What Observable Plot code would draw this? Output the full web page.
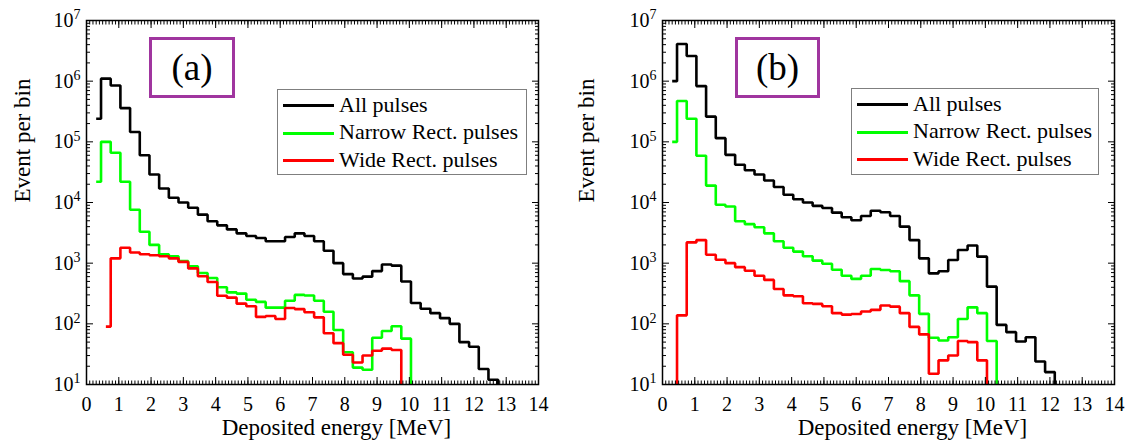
<!DOCTYPE html>
<html>
<head>
<meta charset="utf-8">
<script src="https://cdn.jsdelivr.net/npm/d3@7"></script>
<script src="https://cdn.jsdelivr.net/npm/@observablehq/plot@0.6"></script>
<style>
  html, body { margin: 0; padding: 0; background: #fff; }
  #figure { position: relative; width: 1128px; height: 443px; font-family: "Liberation Serif", "Times New Roman", serif; color: #000; overflow: hidden; }
  .panel { position: absolute; top: 0; }
  .tag { position: absolute; box-sizing: border-box; border: 3px solid #a0359f; display: flex; align-items: center; justify-content: center; font-size: 37px; line-height: 1; }
  .legend { position: absolute; box-sizing: border-box; border: 1px solid #7f7f7f; background: #fff; font-size: 22px; }
  .legend .swatch { position: absolute; left: 5px; width: 51px; height: 3px; }
  .legend .name { position: absolute; left: 61px; line-height: 22px; white-space: nowrap; }
</style>
</head>
<body>
<div id="figure"></div>
<script>
// Histogram binning: bins are 0.3 MeV wide, with edges at 0.15 + 0.3 k.
const binWidth = 0.3;
const firstEdge = 0.15;

const seriesNames = ["All pulses", "Narrow Rect. pulses", "Wide Rect. pulses"];
const seriesColors = ["#000000", "#00ff00", "#ff0000"];

// Panel (a): energy where each curve begins, then counts per consecutive bin (0 = empty bin)
const startA = [0.3, 0.3, 0.6];
const allA = [2.4e5, 1.1e6, 8.5e5, 3.6e5, 1.45e5, 6.0e4, 2.9e4, 1.7e4, 1.2e4, 1.0e4,
  8.2e3, 6.3e3, 4.9e3, 4.2e3, 3.6e3, 3.1e3, 2.8e3, 2.6e3, 2.3e3, 2.3e3,
  2.7e3, 3.1e3, 2.8e3, 2.3e3, 1.6e3, 1.0e3, 660, 560, 600, 740,
  950, 910, 500, 220, 177, 150, 124, 100, 50, 42, 18, 12, 0];
const narrowA = [2.2e4, 1.0e5, 6.6e4, 2.2e4, 7.6e3, 3.3e3, 2.0e3, 1.4e3, 1.3e3, 1.08e3,
  890, 690, 570, 400, 330, 315, 250, 230, 185, 185,
  240, 300, 293, 240, 158, 79, 34, 19, 17.5, 59,
  76, 91, 57, 0];
const wideA = [90, 1.2e3, 1.8e3, 1.5e3, 1.4e3, 1.35e3, 1.3e3, 1.2e3, 1.05e3,
  820, 610, 490, 290, 270, 215, 195, 130, 135, 120,
  182, 175, 155, 128, 70, 48, 31, 23, 30, 36,
  39, 37, 0];

// Panel (b)
const startB = [0.3, 0.3, 0.15];
const allB = [1.0e6, 4.1e6, 2.6e6, 8.3e5, 2.6e5, 1.15e5, 6.1e4, 4.2e4, 3.4e4, 2.9e4,
  2.3e4, 1.8e4, 1.34e4, 1.13e4, 1.0e4, 8.8e3, 8.1e3, 6.8e3, 5.7e3, 5.1e3,
  6.0e3, 7.3e3, 6.9e3, 6.0e3, 4.0e3, 2.4e3, 1.2e3, 680, 735, 1.13e3,
  1.65e3, 1.95e3, 1.28e3, 410, 96, 73, 51, 60, 24, 16, 0];
const narrowB = [1.0e5, 4.7e5, 2.4e5, 5.9e4, 1.9e4, 9.2e3, 8.6e3, 4.9e3, 4.4e3, 3.9e3,
  3.1e3, 2.3e3, 1.8e3, 1.55e3, 1.3e3, 1.1e3, 980, 780, 620, 550,
  620, 800, 770, 735, 505, 295, 146, 59, 53, 60,
  120, 187, 150, 52, 0];
const wideB = [0, 138, 2.2e3, 2.4e3, 1.38e3, 1.14e3, 1.0e3, 860, 750, 620,
  530, 375, 295, 285, 218, 213, 195, 150, 142, 145,
  160, 170, 200, 192, 150, 89, 67, 15, 25, 30,
  52, 50, 25, 0];

// Axis ticks
const xTicks = d3.range(0, 15);
const xMinorTicks = d3.range(0, 141).map(i => i / 10);
const yTicks = [1e1, 1e2, 1e3, 1e4, 1e5, 1e6, 1e7];
const yMinorTicks = yTicks.slice(0, -1).flatMap(p => d3.range(2, 10).map(m => m * p));

const xTitle = "Deposited energy [MeV]";
const yTitle = "Event per bin";

// Turn per-bin counts into step points (step-after), ending on the last bin's upper edge.
function stepRows(counts, start) {
  const k0 = Math.floor((start - firstEdge) / binWidth + 1e-9);
  const rows = counts.map((c, i) => ({
    x: i === 0 ? start : firstEdge + binWidth * (k0 + i),
    count: c
  }));
  rows.push({x: firstEdge + binWidth * (k0 + counts.length), count: counts[counts.length - 1]});
  return rows;
}

function drawPanel({series, starts, marginLeft, marginRight}) {
  const floor = 1; // empty bins fall below the axis and are clipped
  const lines = series.map((counts, s) =>
    Plot.line(stepRows(counts, starts[s]), {
      x: "x",
      y: d => Math.max(d.count, floor),
      curve: "step-after",
      stroke: seriesColors[s],
      strokeWidth: 2.6,
      strokeLinejoin: "miter",
      strokeLinecap: "butt",
      clip: true
    })
  );
  const svg = Plot.plot({
    width: 564,
    height: 443,
    marginTop: 20,
    marginBottom: 59,
    marginLeft,
    marginRight,
    style: {fontFamily: '"Liberation Serif", "Times New Roman", serif', background: "white", color: "black", overflow: "visible"},
    x: {domain: [0, 14]},
    y: {type: "log", domain: [1e1, 1e7]},
    marks: [
      ...lines,
      // inward ticks on all four sides
      Plot.axisX(xMinorTicks, {anchor: "bottom", tickSize: -3.5, fill: "none", label: null}),
      Plot.axisX(xTicks, {anchor: "bottom", tickSize: -7, fill: "none", label: null}),
      Plot.axisX(xMinorTicks, {anchor: "top", tickSize: -3.5, fill: "none", label: null}),
      Plot.axisX(xTicks, {anchor: "top", tickSize: -7, fill: "none", label: null}),
      Plot.axisY(yMinorTicks, {anchor: "left", tickSize: -4, fill: "none", label: null}),
      Plot.axisY(yTicks, {anchor: "left", tickSize: -7, fill: "none", label: null}),
      Plot.axisY(yMinorTicks, {anchor: "right", tickSize: -4, fill: "none", label: null}),
      Plot.axisY(yTicks, {anchor: "right", tickSize: -7, fill: "none", label: null}),
      // tick labels
      Plot.axisX(xTicks, {anchor: "bottom", tickSize: 0, tickPadding: 12, fontSize: 20, label: null}),
      Plot.axisY(yTicks, {anchor: "left", tickSize: 0, tickPadding: 6, fontSize: 20, label: null,
        tickFormat: d => "10^" + Math.round(Math.log10(d))}),
      Plot.frame({stroke: "black", strokeWidth: 1.5}),
      // axis titles
      Plot.text([xTitle], {frameAnchor: "bottom", dx: 24, dy: 50, fontSize: 23}),
      Plot.text([yTitle], {frameAnchor: "left", dx: -(marginLeft - 22), rotate: -90, fontSize: 23})
    ]
  });
  // exponent as a raised, smaller tspan
  svg.querySelectorAll('[aria-label="y-axis tick label"] text').forEach(t => {
    const [base, exp] = t.textContent.split("^");
    if (exp === undefined) return;
    t.textContent = base;
    const sup = document.createElementNS("http://www.w3.org/2000/svg", "tspan");
    sup.setAttribute("dy", "-0.55em");
    sup.setAttribute("font-size", "14");
    sup.textContent = exp;
    t.appendChild(sup);
  });
  return svg;
}

function legendBox(left, top, width, height) {
  const box = document.createElement("div");
  box.className = "legend";
  Object.assign(box.style, {left: left + "px", top: top + "px", width: width + "px", height: height + "px"});
  const rowCenters = [15.5, 43, 70.5];
  seriesNames.forEach((name, i) => {
    const sw = document.createElement("div");
    sw.className = "swatch";
    sw.style.top = (rowCenters[i] - 1.5) + "px";
    sw.style.background = seriesColors[i];
    const tx = document.createElement("div");
    tx.className = "name";
    tx.style.top = (rowCenters[i] - 12) + "px";
    tx.textContent = name;
    box.append(sw, tx);
  });
  return box;
}

function tagBox(label, left, top, width, height) {
  const el = document.createElement("div");
  el.className = "tag";
  Object.assign(el.style, {left: left + "px", top: top + "px", width: width + "px", height: height + "px"});
  el.textContent = label;
  return el;
}

const fig = document.getElementById("figure");

const panelA = document.createElement("div");
panelA.className = "panel";
panelA.style.left = "0px";
panelA.append(drawPanel({series: [allA, narrowA, wideA], starts: startA, marginLeft: 86, marginRight: 26}));

const panelB = document.createElement("div");
panelB.className = "panel";
panelB.style.left = "564px";
panelB.append(drawPanel({series: [allB, narrowB, wideB], starts: startB, marginLeft: 98, marginRight: 14}));

fig.append(panelA, panelB,
  tagBox("(a)", 149, 37, 86, 61), legendBox(277, 89, 250, 86),
  tagBox("(b)", 735, 37, 85, 61), legendBox(851, 88, 248, 87));
</script>
</body>
</html>
